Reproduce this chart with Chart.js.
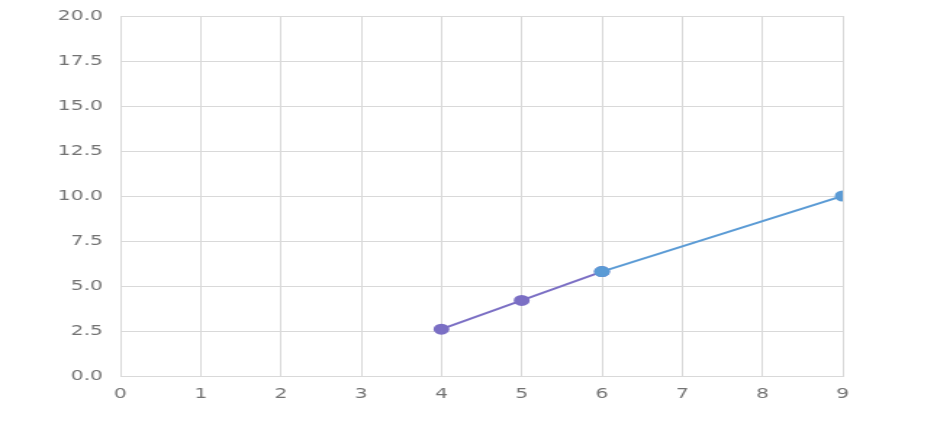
<!DOCTYPE html>
<html>
<head>
<meta charset="utf-8">
<script src="https://cdn.jsdelivr.net/npm/chart.js@4/dist/chart.umd.min.js"></script>
<style>
  html, body { margin: 0; padding: 0; background: #fff; }
  #chart { display: block; width: 937px !important; height: 428px !important; }
</style>
</head>
<body>
<canvas id="chart" width="646" height="428"></canvas>
<script>
// values (lower part is hidden in the reference)
const xTicks = [0, 1, 2, 3, 4, 5, 6, 7, 8, 9];
const yTicks = [0, 2.5, 5, 7.5, 10, 12.5, 15, 17.5, 20];

const blueX = [6, 9];
const blueY = [5.8, 10];

const purpleX = [4, 5, 6];
const purpleY = [2.6, 4.2, 5.8];

const toPoints = (xs, ys) => xs.map((x, i) => ({ x, y: ys[i] }));

Chart.defaults.font.family = '"DejaVu Sans", sans-serif';

const ctx = document.getElementById('chart').getContext('2d');

new Chart(ctx, {
  type: 'scatter',
  data: {
    datasets: [
      {
        label: 'Series 1',
        data: toPoints(blueX, blueY),
        showLine: true,
        borderColor: '#5b9bd5',
        backgroundColor: '#5b9bd5',
        borderWidth: 2,
        pointRadius: 4.5,
        clip: 0,
        order: 1,
      },
      {
        label: 'Series 2',
        data: toPoints(purpleX, purpleY),
        showLine: true,
        borderColor: '#7b6fc4',
        backgroundColor: '#7b6fc4',
        borderWidth: 2,
        pointRadius: 4.5,
        clip: 0,
        order: 2,
      },
    ],
  },
  options: {
    responsive: false,
    animation: false,
    layout: {
      padding: { top: 16, right: 65, bottom: 0, left: 0 },
    },
    plugins: {
      legend: { display: false },
      tooltip: { enabled: false },
    },
    scales: {
      x: {
        type: 'linear',
        min: xTicks[0],
        max: xTicks[xTicks.length - 1],
        afterBuildTicks: (axis) => { axis.ticks = xTicks.map(v => ({ value: v })); },
        afterFit: (axis) => { axis.height = 52; axis.paddingLeft = 0; axis.paddingRight = 0; },
        grid: { color: '#d9d9d9', drawTicks: false },
        border: { color: '#d9d9d9' },
        ticks: {
          color: '#737373',
          padding: 10,
          font: { size: 14 },
        },
      },
      y: {
        min: yTicks[0],
        max: yTicks[yTicks.length - 1],
        afterBuildTicks: (axis) => { axis.ticks = yTicks.map(v => ({ value: v })); },
        afterFit: (axis) => { axis.width = 83; axis.paddingTop = 0; axis.paddingBottom = 0; },
        grid: { color: '#d9d9d9', drawTicks: false },
        border: { color: '#d9d9d9' },
        ticks: {
          color: '#737373',
          padding: 12,
          font: { size: 14 },
          callback: (v) => Number(v).toFixed(1),
        },
      },
    },
  },
});
</script>
</body>
</html>
